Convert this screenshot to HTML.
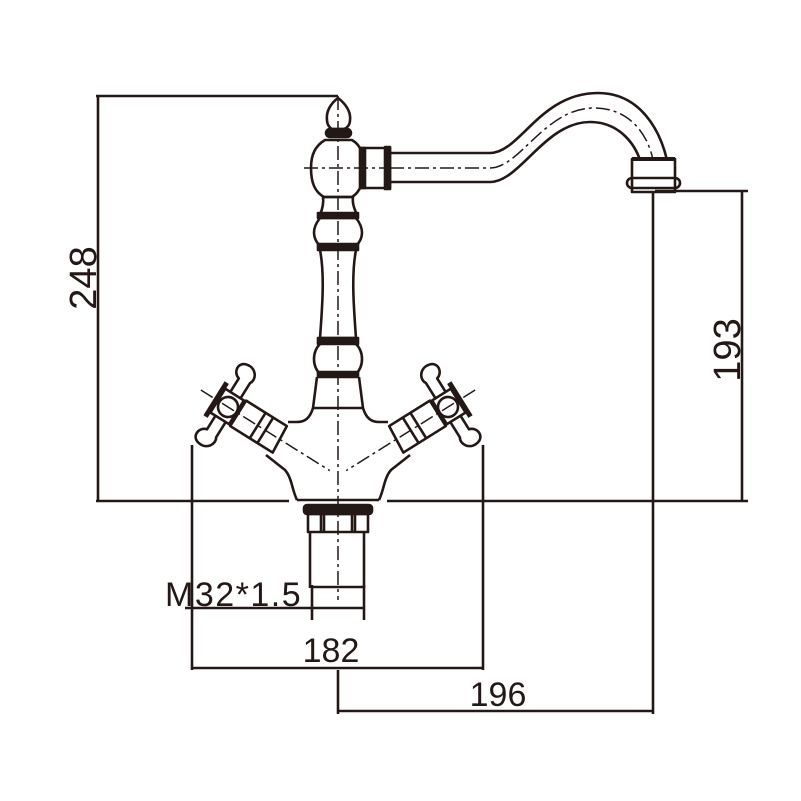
<!DOCTYPE html>
<html><head><meta charset="utf-8"><style>
html,body{margin:0;padding:0;background:#fff}
svg{display:block}
text{font-family:"Liberation Sans",sans-serif;fill:#231815}
</style></head><body>
<svg width="801" height="801" viewBox="0 0 801 801" xmlns="http://www.w3.org/2000/svg">
<g fill="none" stroke="#231815" stroke-width="2.6" stroke-linejoin="round">
<line x1="96" y1="96" x2="338" y2="96"/>
<line x1="98" y1="96" x2="98" y2="501"/>
<line x1="96" y1="501" x2="289" y2="501"/>
<line x1="387" y1="501" x2="748" y2="501"/>
<line x1="655" y1="191" x2="748" y2="191"/>
<line x1="742" y1="191" x2="742" y2="501"/>
<line x1="653" y1="192" x2="653" y2="714"/>
<line x1="338" y1="670" x2="338" y2="714"/>
<line x1="338" y1="711" x2="653" y2="711"/>
<line x1="192" y1="445" x2="192" y2="670"/>
<line x1="483" y1="445" x2="483" y2="670"/>
<line x1="192" y1="668" x2="483" y2="668"/>
<line x1="185" y1="608" x2="364" y2="608"/>
<line x1="312" y1="585" x2="312" y2="620"/>
<line x1="364" y1="585" x2="364" y2="620"/>
<line x1="312" y1="587" x2="364" y2="587"/>

<path d="M390 153 L490 153 C520 153 540 93 598 93 C640 93 660 130 667 160"/>
<path d="M390 182 L490 182 C520 182 545 122 590 122 C620 122 635 145 640 160"/>
<path d="M390 168 L490 168 C520 168 545 108 594 108 C630 108 648 135 653 160" stroke-width="1.5" stroke-dasharray="14 4 3 4"/>
<rect x="632" y="159" width="43" height="33"/>
<rect x="627" y="178" width="53" height="10" rx="5"/>
<line x1="632" y1="159" x2="675" y2="159" stroke-width="4"/>

<path d="M338 98 C330 104 326 112 327 120 C327 125 330 128 332 129 L344 129 C347 128 350 125 350 120 C351 112 346 104 338 98 Z"/>
<rect x="326" y="129" width="25" height="8" rx="4" fill="#231815"/>
<path d="M325 140 L352 140 C362 146 364 156 364 168 C364 183 360 192 352 197 L324 197 C315 192 311 183 311 168 C311 155 315 146 325 140 Z"/>
<rect x="361" y="148" width="29" height="40"/>
<rect x="360" y="148" width="5" height="40" fill="#231815"/>
<rect x="385" y="147" width="5" height="42" fill="#231815"/>
<path d="M323 197 L353 197 C352 204 355 210 357 215 L320 215 C322 210 324 204 323 197 Z"/>
<rect x="318" y="213" width="40" height="5" fill="#231815"/>
<path d="M320 218 C312 228 312 238 320 246 L356 246 C364 238 364 228 356 218 Z"/>
<rect x="318" y="244" width="40" height="6" fill="#231815"/>
<path d="M320 250 C325 275 322 310 320 338 L356 338 C354 310 351 275 356 250"/>
<rect x="318" y="338" width="40" height="6" fill="#231815"/>
<path d="M320 344 C312 352 312 366 320 374 L356 374 C364 366 364 352 356 344"/>
<rect x="318" y="372" width="40" height="5" fill="#231815"/>
<path d="M317 377 L313 408 L363 408 L359 377"/>
<path d="M313 408 C310 418 305 422 297 422 L288 422"/>
<path d="M363 408 C366 418 371 422 379 422 L388 422"/>
<path d="M297 500 C292 490 292 478 285 470 L266 455"/>
<path d="M379 500 C384 490 384 478 391 470 L410 455"/>
<line x1="297" y1="500" x2="379" y2="500"/>
<rect x="304" y="505" width="68" height="9" rx="3" fill="#231815"/>
<rect x="308" y="514" width="60" height="18"/>
<line x1="321" y1="514" x2="321" y2="532"/>
<line x1="324" y1="514" x2="324" y2="532"/>
<line x1="352" y1="514" x2="352" y2="532"/>
<line x1="355" y1="514" x2="355" y2="532"/>
<line x1="310" y1="532" x2="310" y2="588"/>
<line x1="364" y1="532" x2="364" y2="588"/>

<g id="h" transform="translate(228 407) rotate(32)">
  <circle cx="0" cy="0" r="10"/>
  <path d="M12 -15 L60 -15 L62 15 L12 15 Z"/>
  <line x1="35" y1="-15" x2="35" y2="15"/>
  <line x1="44" y1="-15" x2="44" y2="15"/>
  <path d="M-12 -14 L10 -14 L10 14 L-12 14 Z"/>
  <line x1="-14" y1="-20" x2="-14" y2="20" stroke-width="5"/>
  <path d="M-6 -14 L-6 -30 C-14 -32 -16 -44 -6 -46 C4 -48 10 -38 6 -32 L6 -14"/>
  <path d="M-6 14 L-6 30 C-14 32 -16 44 -6 46 C4 48 10 38 6 32 L6 14"/>
  <line x1="-32" y1="0" x2="120" y2="0" stroke-width="1.5" stroke-dasharray="14 4 3 4"/>
</g>
<use href="#h" transform="translate(676 0) scale(-1 1)"/>

<line x1="338" y1="96" x2="338" y2="600" stroke-width="1.5" stroke-dasharray="14 4 3 4"/>
<line x1="304" y1="168" x2="390" y2="168" stroke-width="1.5" stroke-dasharray="14 4 3 4"/>
</g>
<text x="0" y="0" font-size="38" transform="translate(96 278) rotate(-90)" text-anchor="middle">248</text>
<text x="0" y="0" font-size="38" transform="translate(740 350) rotate(-90)" text-anchor="middle">193</text>
<text x="165" y="606" font-size="34" letter-spacing="1.5">M32*1.5</text>
<text x="331" y="662" font-size="34" text-anchor="middle">182</text>
<text x="498" y="706" font-size="34" text-anchor="middle">196</text>
</svg>
</body></html>
